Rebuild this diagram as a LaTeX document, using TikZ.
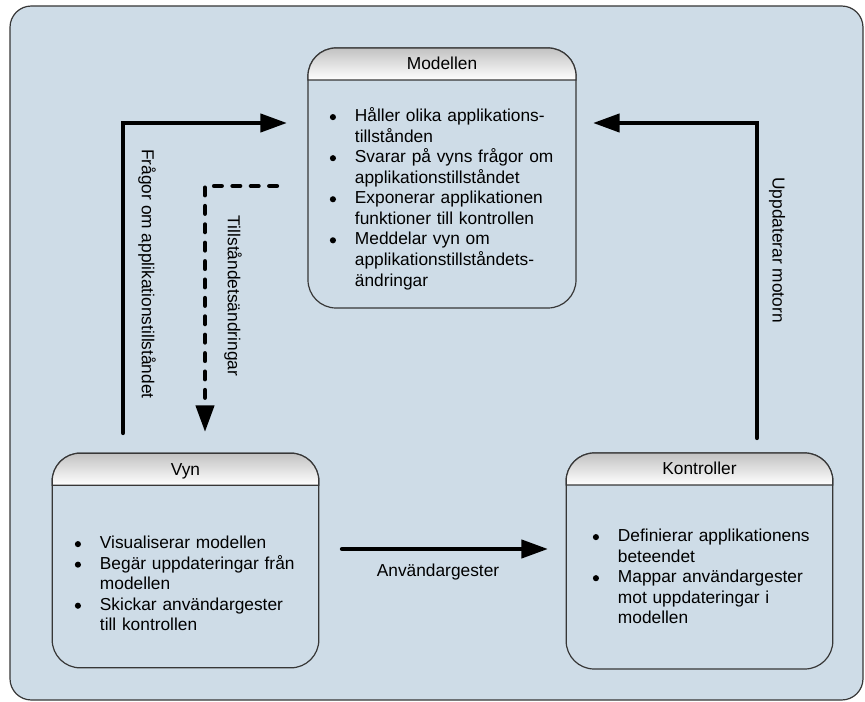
\documentclass[tikz,border=0pt]{standalone}
\usepackage{fontspec}
\setmainfont{Liberation Sans}
\usepackage{tikz}
\usetikzlibrary{arrows.meta,calc}
\definecolor{bakgrund}{RGB}{206,220,231}
\definecolor{kant}{RGB}{55,55,55}
\newcommand{\prick}{\tikz[x=1pt,y=1pt,baseline={(0,-0.27em)}]\fill (2.3pt,0) circle (2.3pt);}
\newenvironment{punkter}{\begin{list}{\prick}{\setlength{\leftmargin}{20pt}\setlength{\labelwidth}{5pt}%
  \setlength{\labelsep}{14.2pt}\setlength{\itemsep}{0pt}\setlength{\parsep}{0pt}%
  \setlength{\topsep}{0pt}\setlength{\partopsep}{0pt}}}{\end{list}}

\begin{document}
\begin{tikzpicture}[x=0.75pt, y=-0.75pt,
  font=\fontsize{13}{15.4}\selectfont,
  komponent/.style={rectangle, draw=kant, line width=0.9pt, outer sep=0pt, fill=bakgrund, rounded corners=21pt},
  huvud/.style={draw=kant, line width=0.9pt, top color=black!24, bottom color=white},
  rubrik/.style={inner sep=0pt, anchor=base},
  lista/.style={anchor=north west, inner sep=0pt, text width=200pt, align=left},
  flode/.style={line width=3.2pt, line cap=round, -{Triangle[length=20pt, width=13.5pt]}},
  streckad/.style={dash pattern=on 5.8pt off 8pt},
  etikett/.style={inner sep=0pt}
  ]

\useasboundingbox (0,0) rectangle (865,702);
\draw[kant, fill=bakgrund, line width=0.9pt, rounded corners=16pt] (10,6) rectangle (863,700);

% de tre delarna
\node[komponent, minimum width=201pt, minimum height=195pt] (modellen) at (442,178) {};
\node[komponent, minimum width=200pt, minimum height=161pt] (vyn) at (185.5,560.5) {};
\node[komponent, minimum width=200pt, minimum height=162pt] (kontroller) at (699.5,561) {};

\foreach \del in {modellen, vyn, kontroller}
  \shadedraw[huvud] ([yshift=-24pt]\del.north west) [rounded corners=21pt] -- (\del.north west)
    -- (\del.north east) [sharp corners] -- ([yshift=-24pt]\del.north east) -- cycle;

\node[rubrik] (modellenrubrik) at ([yshift=-16.5pt]modellen.north) {Modellen};
\node[rubrik] (vynrubrik) at ([yshift=-16.5pt]vyn.north) {Vyn};
\node[rubrik] (kontrollerrubrik) at ([yshift=-16.5pt]kontroller.north) {Kontroller};

\node[lista] (modellenlista) at (328,101) {%
  \begin{punkter}
  \item Håller olika applikations-\newline tillstånden
  \item Svarar på vyns frågor om\newline applikationstillståndet
  \item Exponerar applikationen\newline funktioner till kontrollen
  \item Meddelar vyn om\newline applikationstillståndets-\newline ändringar
  \end{punkter}};
\node[lista] (vynlista) at (73,528) {%
  \begin{punkter}
  \item Visualiserar modellen
  \item Begär uppdateringar från\newline modellen
  \item Skickar användargester\newline till kontrollen
  \end{punkter}};
\node[lista] (kontrollerlista) at (591,521) {%
  \begin{punkter}
  \item Definierar applikationens\newline beteendet
  \item Mappar användargester\newline mot uppdateringar i\newline modellen
  \end{punkter}};

% pilarna
\coordinate (fragor1) at (123,433);
\coordinate (fragor2) at (287,123);
\coordinate (tillstand1) at (277,186);
\coordinate (tillstand2) at (205,432);
\coordinate (motor1) at (757,438);
\coordinate (motor2) at (593,123);
\coordinate (gester1) at (342,549);
\coordinate (gester2) at (548,549);

\draw[flode] (fragor1) |- (fragor2);
\draw[flode, streckad] (tillstand1) -| (tillstand2);
\draw[flode] (motor1) |- (motor2);
\draw[flode] (gester1) -- (gester2);

\node[etikett, rotate=-90] (fragor) at (147,274) {Frågor om applikationstillståndet};
\node[etikett, rotate=-90] (tillstand) at (233,296) {Tillståndetsändringar};
\node[etikett, rotate=-90] (uppdaterar) at (777,250) {Uppdaterar motorn};
\node[etikett] (anvandargester) at (438,572) {Användargester};
\end{tikzpicture}
\end{document}
